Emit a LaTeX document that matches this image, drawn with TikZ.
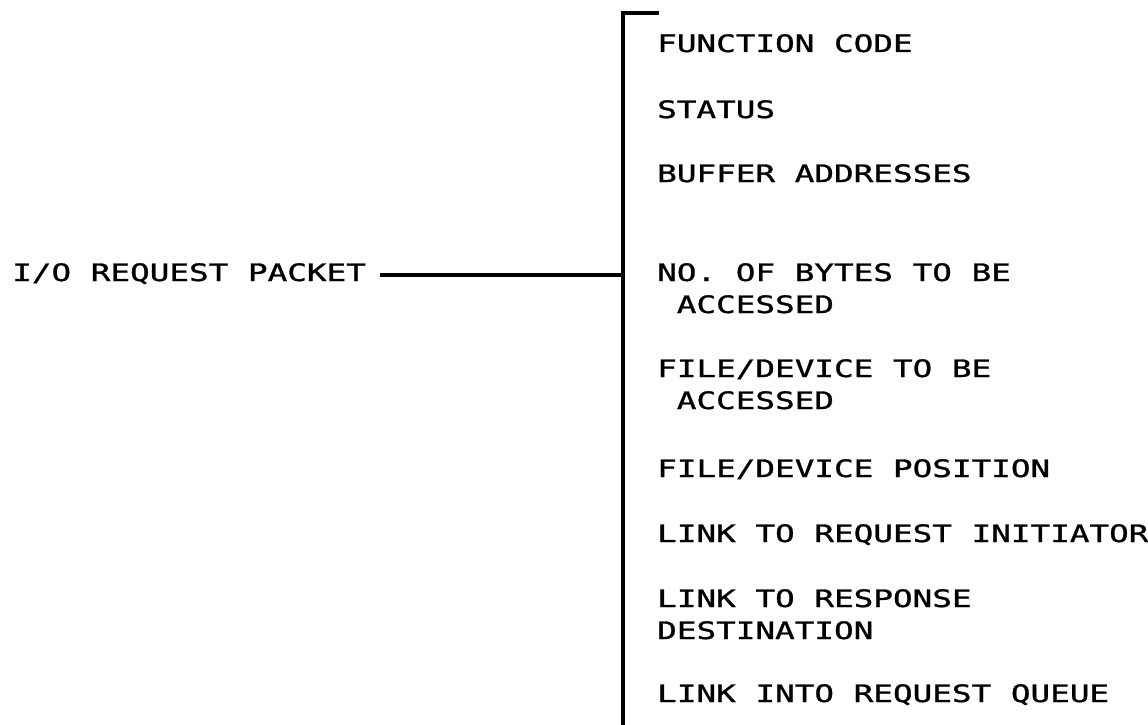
\documentclass[tikz,border=0pt]{standalone}
\usepackage{fontspec}
\newfontfamily\plotfont[FakeStretch=1.36,FakeBold=1.2]{DejaVu Sans Mono}
\begin{document}
\begin{tikzpicture}[x=1pt,y=-1pt,
  label/.style={anchor=base west,inner sep=0pt,align=left,
    font=\plotfont\fontsize{24}{32}\selectfont},
  heavy/.style={line width=4.5pt}]
\useasboundingbox (0,0) rectangle (1148,725);

% packet name on the left
\node[label] (pkt) at (12,281) {I/O REQUEST PACKET};

% fields of the packet (multi-line nodes sit on their last baseline)
\node[label] (f1) at (657,52)  {FUNCTION CODE};
\node[label] (f2) at (657,118) {STATUS};
\node[label] (f3) at (657,182) {BUFFER ADDRESSES};
\node[label] (f4) at (657,313) {NO. OF BYTES TO BE\\\hspace*{19.6pt}ACCESSED};
\node[label] (f5) at (657,409) {FILE/DEVICE TO BE\\\hspace*{19.6pt}ACCESSED};
\node[label] (f6) at (657,477) {FILE/DEVICE POSITION};
\node[label] (f7) at (657,542) {LINK TO REQUEST INITIATOR};
\node[label] (f8) at (657,639) {LINK TO RESPONSE\\DESTINATION};
\node[label] (f9) at (657,702) {LINK INTO REQUEST QUEUE};

% bracket grouping the fields
\coordinate (btop) at (623,13);
\coordinate (bbot) at (623,730);
\coordinate (join) at (623,275);
\draw[heavy] ([xshift=36pt]btop) -- (btop) -- (bbot);

% connector from the packet name to the bracket
\draw[heavy] ([xshift=14pt]pkt.east |- join) -- (join);
\end{tikzpicture}
\end{document}
